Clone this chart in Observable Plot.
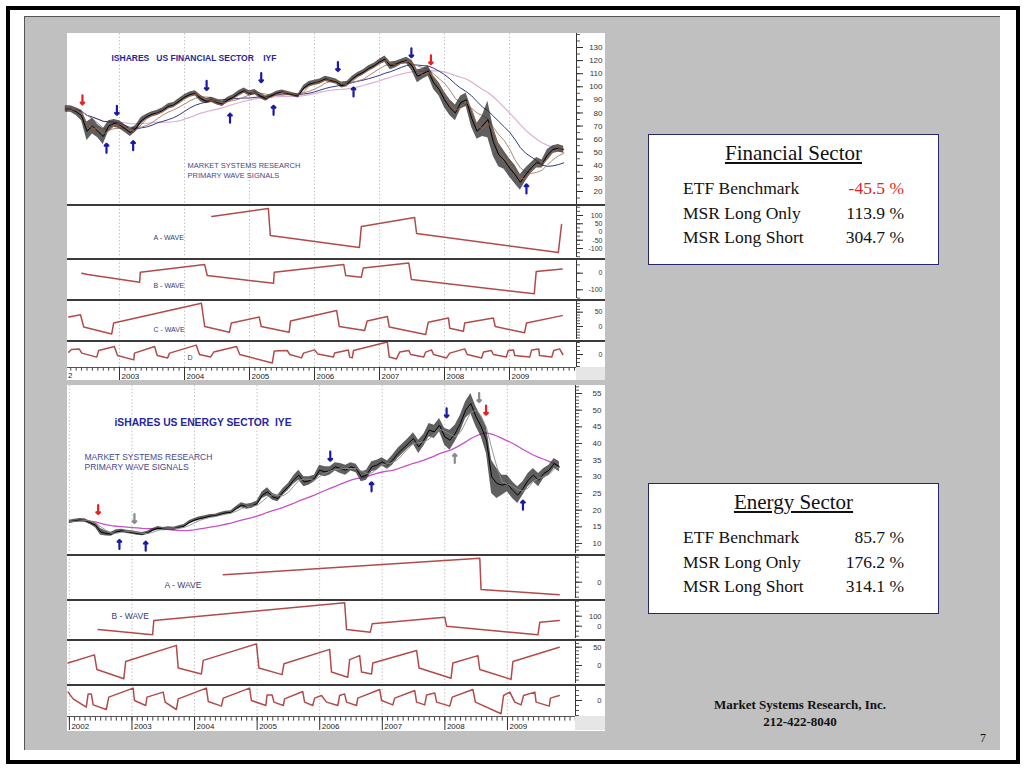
<!DOCTYPE html>
<html><head><meta charset="utf-8">
<script src="https://cdn.jsdelivr.net/npm/d3@7"></script>
<script src="https://cdn.jsdelivr.net/npm/@observablehq/plot@0.6"></script>
<style>
body{margin:0;background:#fff;}
#slide{position:relative;width:1024px;height:768px;background:#fff;overflow:hidden;font-family:"Liberation Sans",Arial,sans-serif;}
#slide svg{max-width:none;}
</style></head><body><div id="slide"></div>
<script>
// ---------------- DATA ----------------
// Financial sector ETF (IYF) monthly closes, starting 2002-03
const finStart = [2002, 3];
const finClose = [83,83,81,78,66,70,66,62,70,72,
  71,68,65,68,74,77,79,80,82,85,86,89,
  92,94,95,91,89,90,88,87,90,92,95,97,
  95,96,93,91,93,95,96,95,94,93,99,102,
  103,104,106,105,104,101,102,106,109,111,114,116,
  119,121,116,117,119,120,116,108,110,112,103,98,
  90,84,80,88,90,76,66,70,75,58,48,44,
  38,33,27,33,38,42,41,48,52,53,52];
const finSpread = [5,5,6,8,14,12,10,12,8,6,
  6,6,6,5,5,4,4,4,4,4,4,4,
  4,4,4,5,4,4,4,4,4,4,4,4,
  4,4,4,4,3,3,3,3,3,3,4,4,
  4,4,4,4,4,4,4,4,4,4,4,4,
  4,5,6,5,4,5,8,10,8,8,10,10,
  12,12,12,10,10,14,12,16,28,22,18,14,
  14,14,12,10,8,8,6,8,6,6,5];
// Energy sector ETF (IYE) monthly closes, starting 2002-01
const eneStart = [2002, 1];
const eneClose = [16.5,16.8,17,16.9,16.2,15.5,13.5,13,12.8,13.5,13.8,13.5,
  13.3,13,12.8,13.2,14,14.6,14.3,14.5,14.4,14.8,15.2,16.3,
  17,17.5,17.8,18.2,18.3,18.8,19.2,19.3,20.5,21.5,21,21.3,
  22,24.5,25.5,24,23.5,25.5,27,29,30.5,28.5,28.8,29.5,
  32,31.5,31.8,33,32.5,32,33,32.5,30,30.5,33,33.5,
  34.5,33.5,35,37,38.5,40,41.5,39,41,44,43.5,45.5,
  42,41,43,46,50,52,48,45,41,30,28,27.5,
  28,26,24.5,26.5,29,30.5,29,31,32,34,33];
const eneSpread = [1,1,1,1,1,1.5,2,1.5,1.2,1.2,1,1,
  1,1,1,1,1,1,1,1,1,1,1,1,
  1,1,1,1,1,1,1,1,1.2,1.5,1.5,1.5,
  1.5,2,2.5,2,2,2,2,2.5,3,3,2.5,2,
  3,3,2.5,2.5,3,3,2.5,2.5,3,3,3,3,
  2.5,2.5,3,3,3,3,3.5,4,3.5,4,4,4,
  5,6,5,5,5,6,6,6,8,10,9,6,
  5,5,5,4,4,4,4,3,3,3,3];

// Wave indicators: [decimal year, value]
const finA = [[2004.42,94],[2005.29,142],[2005.32,-21],[2006.69,-94],[2006.72,33],[2007.54,88],[2007.57,-9],[2009.75,-124],[2009.80,45]];
const finB = [[2002.42,0],[2002.51,-8],[2003.31,-54],[2003.32,6],[2004.31,52],[2004.35,-14],[2005.37,-60],[2005.38,6],[2006.45,52],[2006.48,-14],[2006.72,-24],[2006.75,32],[2007.45,62],[2007.49,-38],[2009.38,-124],[2009.41,10],[2009.81,26]];
const finC = [[2002.22,33],[2002.40,41],[2002.45,-2],[2002.88,-26],[2002.91,12],[2004.26,81],[2004.31,0],[2004.69,-20],[2004.72,12],[2005.15,33],[2005.18,0],[2005.61,-20],[2005.63,19],[2006.34,56],[2006.38,0],[2006.77,-14],[2006.81,19],[2007.12,35],[2007.15,-2],[2007.71,-28],[2007.75,15],[2008.06,30],[2008.08,-6],[2008.29,-17],[2008.31,12],[2008.75,30],[2008.78,0],[2009.23,-22],[2009.26,12],[2009.81,38]];
const finD = [[2002.22,12],[2002.26,25],[2002.38,28],[2002.42,7],[2002.65,-13],[2002.68,20],[2002.92,40],[2002.97,-5],[2003.22,-27],[2003.23,7],[2003.54,40],[2003.58,-5],[2003.74,-17],[2003.77,7],[2004.18,47],[2004.23,0],[2004.40,-13],[2004.45,12],[2004.80,40],[2004.85,0],[2005.35,-43],[2005.38,17],[2005.58,20],[2005.62,0],[2005.80,-17],[2005.83,7],[2006.00,23],[2006.05,3],[2006.29,-13],[2006.31,7],[2006.52,23],[2006.54,-13],[2006.58,-17],[2006.60,20],[2007.12,62],[2007.15,-13],[2007.26,-22],[2007.31,12],[2007.45,20],[2007.48,0],[2007.68,-13],[2007.71,12],[2007.80,23],[2007.83,0],[2008.03,-17],[2008.08,7],[2008.31,28],[2008.35,0],[2008.57,-17],[2008.60,12],[2008.72,20],[2008.75,0],[2008.95,-13],[2008.98,20],[2009.06,23],[2009.08,-5],[2009.31,-13],[2009.34,23],[2009.45,28],[2009.46,-5],[2009.65,-13],[2009.68,20],[2009.77,28],[2009.82,0]];

const eneA = [[2004.46,37],[2008.56,120],[2008.58,-36],[2009.83,-63]];
const eneB = [[2002.46,-33],[2003.33,-86],[2003.35,57],[2006.40,234],[2006.43,-33],[2006.81,-60],[2006.84,24],[2008.00,90],[2008.03,0],[2009.49,-86],[2009.52,40],[2009.83,57]];
const eneC = [[2001.98,7],[2002.40,29],[2002.44,-11],[2002.87,-36],[2002.90,11],[2003.71,55],[2003.74,-7],[2004.11,-23],[2004.14,14],[2004.99,59],[2005.03,-7],[2005.40,-25],[2005.43,5],[2006.16,44],[2006.19,-18],[2006.45,-32],[2006.48,16],[2006.64,27],[2006.67,-18],[2006.83,-23],[2006.85,7],[2007.55,41],[2007.59,-7],[2008.10,-35],[2008.13,7],[2008.53,27],[2008.56,-11],[2009.06,-38],[2009.09,11],[2009.83,50]];
const eneD = [[2001.98,42],[2002.06,8],[2002.27,-33],[2002.30,33],[2002.35,33],[2002.38,-22],[2002.59,-45],[2002.63,17],[2003.02,62],[2003.04,0],[2003.22,-25],[2003.24,17],[2003.50,42],[2003.53,-8],[2003.71,-45],[2003.74,8],[2004.19,62],[2004.22,-5],[2004.43,-28],[2004.46,12],[2004.88,62],[2004.91,0],[2005.14,-25],[2005.16,28],[2005.24,28],[2005.27,-8],[2005.42,-25],[2005.44,8],[2005.73,45],[2005.76,-8],[2005.89,-25],[2005.92,12],[2006.03,25],[2006.11,-8],[2006.29,-25],[2006.32,25],[2006.40,33],[2006.43,-8],[2006.59,-25],[2006.61,12],[2006.96,55],[2006.99,0],[2007.17,-22],[2007.20,12],[2007.52,50],[2007.55,-8],[2007.68,-22],[2007.71,28],[2007.84,38],[2007.87,-8],[2008.08,-28],[2008.12,17],[2008.45,55],[2008.49,-8],[2008.90,-66],[2008.94,25],[2009.04,42],[2009.12,-8],[2009.22,-22],[2009.26,25],[2009.44,42],[2009.46,-8],[2009.67,-28],[2009.69,12],[2009.83,25]];

// Signals: [decimal year, price, direction, colour kind]
const finSignals = [[2002.43,90,"down","red"],[2002.96,82,"down","blue"],[2002.80,53,"up","blue"],[2003.21,55,"up","blue"],[2004.34,101,"down","blue"],[2004.70,76,"up","blue"],[2005.18,107,"down","blue"],[2005.37,82,"up","blue"],[2006.36,115.5,"down","blue"],[2006.60,96,"up","blue"],[2007.49,126,"down","blue"],[2007.79,120.6,"down","red"],[2009.26,22,"up","blue"]];
const eneSignals = [[2002.46,20.2,"down","red"],[2003.04,17.5,"down","gray"],[2002.80,9.7,"up","blue"],[2003.22,9.2,"up","blue"],[2006.17,36.2,"down","blue"],[2006.83,27,"up","blue"],[2008.03,49.2,"down","blue"],[2008.16,35.5,"up","gray"],[2008.55,53.8,"down","gray"],[2008.66,50,"down","red"],[2009.25,21.5,"up","blue"]];

// Axis tick labels
const years = [2002,2003,2004,2005,2006,2007,2008,2009];
const yearLabels = ["2002","2003","2004","2005","2006","2007","2008","2009"];
const finPriceTicks = [20,30,40,50,60,70,80,90,100,110,120,130];
const finATicks = [100,50,0,-50,-100];
const finBTicks = [0,-100];
const finCTicks = [50,0];
const finDTicks = [0];
const enePriceTicks = [10,15,20,25,30,35,40,45,50,55];
const eneATicks = [0];
const eneBTicks = [100,0];
const eneCTicks = [50,0];
const eneDTicks = [0];

// Results tables
const sectorTitles = ["Financial Sector","Energy Sector"];
const rowLabels = ["ETF Benchmark","MSR Long Only","MSR Long Short"];
const finResults = [-45.5, 113.9, 304.7];
const eneResults = [85.7, 176.2, 314.1];

// ---------------- RENDER ----------------
const slide = document.getElementById("slide");
function div(css, html) { const d = document.createElement("div"); d.style.cssText = "position:absolute;" + css; if (html) d.innerHTML = html; slide.appendChild(d); return d; }

// frame
div("left:6px;top:6px;width:1006px;height:750px;border:4px solid #000;background:#fff;");
div("left:24px;top:16px;width:975px;height:733px;border-top:1px solid #555;border-left:1px solid #555;background:#c0c0c0;");

const sigColor = {red:"#e32222", blue:"#1a1aa8", gray:"#8a8a8a"};
const waveColor = "#b34a4a";

function monthly(start, close, spread) {
  return close.map((c, i) => ({t: start[0] + (start[1] - 1 + i) / 12, c, lo: c - spread[i] / 2, hi: c + spread[i] / 2}));
}
function pts(arr) { return arr.map(([t, v]) => ({t, v})); }

const baseStyle = {background:"transparent", fontFamily:"Liberation Sans, Arial, sans-serif", fontSize:"8px", overflow:"visible"};

function place(p, left, top) { p.style.position = "absolute"; p.style.left = left + "px"; p.style.top = top + "px"; slide.appendChild(p); }

function yAxisMarks(majors, minors, xmax, fs) {
  return [
    Plot.ruleX([xmax], {stroke:"#333", strokeWidth:1}),
    Plot.axisY(minors, {anchor:"right", tickSize:3, tickFormat:() => "", label:null, stroke:"#555"}),
    Plot.axisY(majors, {anchor:"right", tickSize:6, tickFormat:() => "", label:null, stroke:"#333"}),
    Plot.text(majors, {y:d => d, frameAnchor:"right", textAnchor:"end", dx:26, text:d => String(d), fontSize:fs, fill:"#333"})
  ];
}

function panel({left, top, width, height, mr, xdom, ydom, majors, minors, marks, fs = 8}) {
  const p = Plot.plot({
    width, height, marginLeft:0, marginRight:mr, marginTop:0, marginBottom:0,
    x:{domain:xdom, axis:null}, y:{domain:ydom, label:null},
    style:baseStyle,
    marks:[
      Plot.ruleX(years.filter(y => y > xdom[0]), {stroke:"#c4c4c4", strokeDasharray:"1.5,2"}),
      ...marks,
      ...yAxisMarks(majors, minors, xdom[1], fs)
    ]
  });
  place(p, left, top);
}

function dateRow({left, top, width, xdom, labels}) {
  const months = d3.range(Math.ceil(xdom[0] * 12), Math.floor(xdom[1] * 12) + 1).map(m => m / 12);
  const shown = years.map((y, i) => [y, labels[i]]).filter(d => d[0] >= xdom[0]);
  const p = Plot.plot({
    width, height:13, marginLeft:0, marginRight:0, marginTop:0, marginBottom:0,
    x:{domain:xdom, axis:null}, y:{domain:[0,1], axis:null},
    style:{...baseStyle, overflow:"hidden"},
    marks:[
      Plot.ruleX(months, {y1:1, y2:0.72, stroke:"#444"}),
      Plot.ruleX(years.filter(y => y >= xdom[0]), {stroke:"#333"}),
      Plot.text(shown, {x:d => d[0], y:0.35, text:d => d[1], textAnchor:"start", dx:2, fontSize:8, fill:"#222"})
    ]
  });
  place(p, left, top);
}

function hline(left, top, width, color, h) { div(`left:${left}px;top:${top}px;width:${width}px;height:${h}px;background:${color};`); }

function signalMarks(sigs) {
  return [
    Plot.vector(sigs, {x:d => d[0], y:d => d[1], length:9, rotate:d => d[2] === "down" ? 180 : 0, anchor:"middle", stroke:d => sigColor[d[3]], strokeWidth:2.2})
  ];
}

function labelMark(text, dx, dy, size, color, weight) {
  return Plot.text([text], {frameAnchor:"top-left", textAnchor:"start", dx, dy, text:d => d, fontSize:size, fill:color, fontWeight:weight || "normal"});
}

// ===== Financial chart =====
const FX = [2002.2, 2010.03];
div("left:67px;top:33px;width:538px;height:347px;background:#fff;");
const finData = monthly(finStart, finClose, finSpread);
panel({left:67, top:33, width:538, height:171, mr:29, xdom:FX, ydom:[10.07,140.7],
  majors:finPriceTicks, minors:d3.range(15, 141, 5),
  marks:[
    Plot.lineY(finData, Plot.windowY({k:18, anchor:"end"}, {x:"t", y:"c", stroke:"#dcaed0", strokeWidth:1.2})),
    Plot.lineY(finData, Plot.windowY({k:10, anchor:"end"}, {x:"t", y:"c", stroke:"#2d3b86", strokeWidth:1})),
    Plot.lineY(finData, Plot.windowY({k:5, anchor:"end"}, {x:"t", y:"c", stroke:"#a88a7a", strokeWidth:1})),
    Plot.areaY(finData, {x:"t", y1:"lo", y2:"hi", fill:"#2a2a2a", fillOpacity:0.75}),
    Plot.lineY(finData, {x:"t", y:"c", stroke:"#000", strokeWidth:1}),
    Plot.lineY(finData, Plot.windowY({k:2, anchor:"end"}, {x:"t", y:"c", stroke:"#b0603a", strokeWidth:0.8})),
    ...signalMarks(finSignals),
    labelMark("ISHARES   US FINANCIAL SECTOR    IYF", 44, 21, 8.5, "#2626a0", "bold"),
    labelMark("MARKET SYSTEMS RESEARCH", 120, 129, 7.5, "#46468e"),
    labelMark("PRIMARY WAVE SIGNALS", 120, 139, 7.5, "#46468e")
  ]});
panel({left:67, top:205, width:538, height:52, mr:29, xdom:FX, ydom:[-154.5,160.6], fs:7,
  majors:finATicks, minors:d3.range(-150, 151, 25),
  marks:[Plot.line(pts(finA), {x:"t", y:"v", stroke:waveColor}), labelMark("A - WAVE", 86, 30, 7, "#3a3a70")]});
panel({left:67, top:259, width:538, height:39, mr:29, xdom:FX, ydom:[-152.4,82.5], fs:7,
  majors:finBTicks, minors:d3.range(-150, 81, 50),
  marks:[Plot.line(pts(finB), {x:"t", y:"v", stroke:waveColor}), labelMark("B - WAVE", 86, 24, 7, "#3a3a70")]});
panel({left:67, top:300, width:538, height:39, mr:29, xdom:FX, ydom:[-45.5,90.9], fs:7,
  majors:finCTicks, minors:d3.range(-40, 91, 10),
  marks:[Plot.line(pts(finC), {x:"t", y:"v", stroke:waveColor}), labelMark("C - WAVE", 86, 27, 7, "#3a3a70")]});
panel({left:67, top:341, width:538, height:26, mr:29, xdom:FX, ydom:[-65,65], fs:7,
  majors:finDTicks, minors:d3.range(-60, 61, 20),
  marks:[Plot.line(pts(finD), {x:"t", y:"v", stroke:waveColor}), labelMark("D", 120, 14, 7, "#3a3a70")]});
[204, 258, 299, 340].forEach(y => hline(67, y, 538, "#3a3a3a", 1.5));
hline(67, 367, 509, "#555", 1);
div("left:576px;top:367px;width:29px;height:13px;background:#e6e6e6;");
div("left:68px;top:371px;font-size:8px;line-height:10px;color:#222;", "2");
dateRow({left:67, top:367, width:509, xdom:[FX[0], 2003 + (576 - 119) / 65], labels:yearLabels});

// ===== Energy chart =====
const EX = [2001.97, 2010.09];
div("left:67px;top:385px;width:538px;height:346px;background:#fff;");
const eneData = monthly(eneStart, eneClose, eneSpread);
panel({left:67, top:385, width:538, height:168, mr:30, xdom:EX, ydom:[7.0,57.4],
  majors:enePriceTicks, minors:d3.range(8, 58, 1),
  marks:[
    Plot.lineY(eneData, Plot.windowY({k:18, anchor:"end"}, {x:"t", y:"c", stroke:"#c94fc9", strokeWidth:1.3})),
    Plot.areaY(eneData, {x:"t", y1:"lo", y2:"hi", fill:"#2a2a2a", fillOpacity:0.75}),
    Plot.lineY(eneData, {x:"t", y:"c", stroke:"#000", strokeWidth:1}),
    Plot.lineY(eneData, Plot.windowY({k:3, anchor:"end"}, {x:"t", y:"c", stroke:"#8c8c8c", strokeWidth:0.9})),
    ...signalMarks(eneSignals),
    labelMark("iSHARES US ENERGY SECTOR  IYE", 47, 33, 10.3, "#2626a0", "bold"),
    labelMark("MARKET SYSTEMS RESEARCH", 17, 68, 8.5, "#46468e"),
    labelMark("PRIMARY WAVE SIGNALS", 17, 78, 8.5, "#46468e")
  ]});
panel({left:67, top:555, width:538, height:43, mr:30, xdom:EX, ydom:[-81.5,133.5], fs:7.5,
  majors:eneATicks, minors:d3.range(-75, 131, 25),
  marks:[Plot.line(pts(eneA), {x:"t", y:"v", stroke:waveColor}), labelMark("A - WAVE", 97, 26, 8.5, "#3a3a70")]});
panel({left:67, top:600, width:538, height:38, mr:30, xdom:EX, ydom:[-123,257], fs:7.5,
  majors:eneBTicks, minors:d3.range(-100, 251, 50),
  marks:[Plot.line(pts(eneB), {x:"t", y:"v", stroke:waveColor}), labelMark("B - WAVE", 44, 12, 8.5, "#3a3a70")]});
panel({left:67, top:640, width:538, height:43, mr:30, xdom:EX, ydom:[-49.2,68.3], fs:7.5,
  majors:eneCTicks, minors:d3.range(-40, 66, 10),
  marks:[Plot.line(pts(eneC), {x:"t", y:"v", stroke:waveColor})]});
panel({left:67, top:685, width:538, height:31, mr:30, xdom:EX, ydom:[-80,75], fs:7.5,
  majors:eneDTicks, minors:d3.range(-75, 76, 25),
  marks:[Plot.line(pts(eneD), {x:"t", y:"v", stroke:waveColor})]});
[554, 599, 639, 684].forEach(y => hline(67, y, 538, "#3a3a3a", 1.5));
hline(67, 716, 508, "#555", 1);
div("left:575px;top:716px;width:30px;height:14px;background:#e6e6e6;");
dateRow({left:67, top:717, width:508, xdom:[EX[0], 2002 + (575 - 69) / 62.57], labels:yearLabels});

// ===== Results boxes =====
function fmt(v) { return v.toFixed(1) + " %"; }
function resultBox(top, title, values, negRed) {
  const box = div(`left:648px;top:${top}px;width:289px;height:129px;background:#fff;border:1.5px solid #26266e;font-family:'Liberation Serif','Times New Roman',serif;color:#111;`);
  const t = document.createElement("div");
  t.style.cssText = "position:absolute;left:0;top:6px;width:289px;text-align:center;font-size:21px;text-decoration:underline;text-underline-offset:2px;";
  t.textContent = title; box.appendChild(t);
  rowLabels.forEach((lab, i) => {
    const l = document.createElement("div");
    l.style.cssText = `position:absolute;left:34px;top:${43 + i * 24.5}px;font-size:17.5px;white-space:nowrap;`;
    l.textContent = lab; box.appendChild(l);
    const v = document.createElement("div");
    v.style.cssText = `position:absolute;right:34px;top:${43 + i * 24.5}px;font-size:17.5px;white-space:nowrap;color:${negRed && values[i] < 0 ? "#e32222" : "#111"};`;
    v.textContent = fmt(values[i]); box.appendChild(v);
  });
}
resultBox(134, sectorTitles[0], finResults, true);
resultBox(483, sectorTitles[1], eneResults, true);

// footer
div("left:700px;top:696px;width:200px;text-align:center;font-family:'Liberation Serif','Times New Roman',serif;font-weight:bold;font-size:13px;line-height:17px;color:#111;", "Market Systems Research, Inc.<br>212-422-8040");
div("left:980px;top:731px;font-family:'Liberation Serif','Times New Roman',serif;font-size:12px;color:#111;", "7");
</script></body></html>
